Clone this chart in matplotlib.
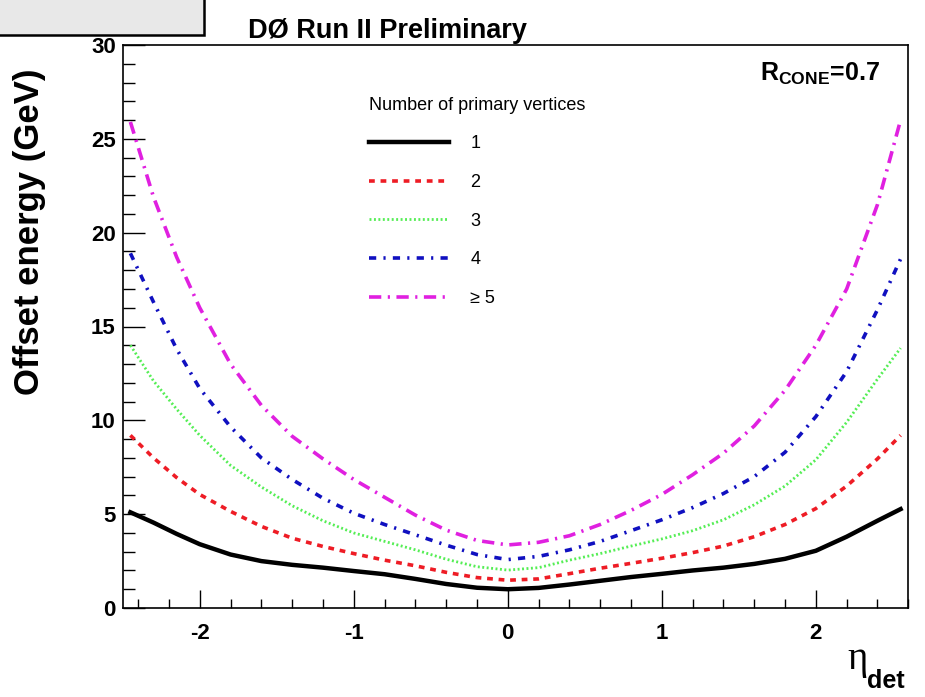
import numpy as np
import matplotlib
matplotlib.use("Agg")
import matplotlib.pyplot as plt
from matplotlib.patches import Rectangle
from matplotlib.ticker import MultipleLocator


##########       Data       ####################################
eta = [-2.45, -2.3, -2.15, -2.0, -1.8, -1.6, -1.4, -1.2, -1.0, -0.8, -0.6,
       -0.4, -0.2, 0.0, 0.2, 0.4, 0.6, 0.8, 1.0, 1.2, 1.4, 1.6, 1.8, 2.0,
       2.2, 2.4, 2.55]

offset_1 = [5.1, 4.55, 3.95, 3.4, 2.85, 2.5, 2.3, 2.15, 1.97, 1.8, 1.55,
            1.28, 1.08, 1.0, 1.07, 1.25, 1.45, 1.65, 1.82, 2.0, 2.15, 2.35,
            2.62, 3.05, 3.8, 4.65, 5.27]
offset_2 = [9.2, 8.0, 6.95, 6.05, 5.15, 4.35, 3.72, 3.28, 2.9, 2.55, 2.25,
            1.9, 1.62, 1.48, 1.55, 1.83, 2.12, 2.38, 2.65, 2.95, 3.3, 3.8,
            4.45, 5.3, 6.5, 7.95, 9.2]
offset_3 = [14.0, 12.1, 10.6, 9.2, 7.6, 6.45, 5.45, 4.65, 4.0, 3.55, 3.1,
            2.6, 2.2, 2.02, 2.15, 2.55, 2.9, 3.3, 3.68, 4.12, 4.7, 5.5,
            6.5, 7.9, 9.9, 12.2, 13.85]
offset_4 = [18.9, 16.3, 13.8, 11.7, 9.65, 8.0, 6.85, 5.85, 5.05, 4.45, 3.9,
            3.35, 2.85, 2.58, 2.75, 3.1, 3.55, 4.12, 4.7, 5.35, 6.1, 7.0,
            8.3, 10.2, 12.6, 15.9, 18.6]
offset_5 = [25.9, 21.9, 18.7, 16.0, 13.0, 10.8, 9.15, 7.95, 6.85, 5.9, 4.95,
            4.15, 3.6, 3.36, 3.5, 3.85, 4.45, 5.2, 6.05, 7.1, 8.25, 9.7,
            11.6, 14.0, 17.0, 21.5, 26.0]

labels = ["1", "2", "3", "4", "\u2265 5"]
series = [offset_1, offset_2, offset_3, offset_4, offset_5]
##########                                         #############


####################### Plot Config ##########################
plt.rcParams['font.family'] = ['Liberation Sans', 'DejaVu Sans']
plt.rcParams['mathtext.fontset'] = 'custom'
plt.rcParams['mathtext.rm'] = 'Liberation Sans'
plt.rcParams['mathtext.bf'] = 'Liberation Sans:bold'
plt.rcParams['axes.unicode_minus'] = False

W, H = 925, 697
fig = plt.figure(figsize=(W / 100, H / 100), dpi=100, facecolor='white')
ax = fig.add_axes([122.7 / W, 1 - 608 / H, 785.6 / W, 563 / H])

colors = ['black', '#ee1c25', '#55ee55', '#1010c0', '#e020e0']
styles = ['-', (0, (1.6, 1.6)), (0, (0.7, 0.9)), (0, (2.0, 2.0, 0.6, 2.0)),
          (0, (3.4, 1.8, 0.6, 1.8))]
widths = [3.2, 2.6, 2.0, 2.6, 2.6]

for vals, lab, c, ls, lw in zip(series, labels, colors, styles, widths):
    ax.plot(eta, vals, color=c, linestyle=ls, lw=lw, label=lab)

ax.set_xlim(-2.5, 2.6)
ax.set_ylim(0, 30)
ax.xaxis.set_major_locator(MultipleLocator(1))
ax.xaxis.set_minor_locator(MultipleLocator(0.2))
ax.yaxis.set_major_locator(MultipleLocator(5))
ax.yaxis.set_minor_locator(MultipleLocator(1))
ax.tick_params(axis='x', which='major', direction='in', length=12.7, width=1.0,
               pad=11, labelsize=16)
ax.tick_params(axis='x', which='minor', direction='in', length=6.3, width=1.0)
ax.tick_params(axis='y', which='major', direction='in', length=16, width=1.0,
               pad=5, labelsize=16)
ax.tick_params(axis='y', which='minor', direction='in', length=8.5, width=1.0)
for lab in ax.get_xticklabels() + ax.get_yticklabels():
    lab.set_fontweight('bold')
for sp in ax.spines.values():
    sp.set_linewidth(1.2)

leg = ax.legend(title='Number of primary vertices', loc='upper left',
                bbox_to_anchor=(0.314, 0.908), frameon=False, fontsize=13,
                title_fontsize=13, alignment='left', handlelength=4.4,
                handletextpad=1.2, labelspacing=1.2, borderpad=0,
                borderaxespad=0)

# texts
fig.text(388 / W, 1 - 38 / H, 'D\u00d8 Run II Preliminary', fontsize=19.5,
         fontweight='bold', ha='center', va='baseline')
fig.text(30 / W, 1 - 232 / H, 'Offset energy (GeV)', fontsize=25,
         fontweight='bold', rotation=90, ha='center', va='center')
fig.text(880 / W, 1 - 74 / H, r'$\mathbf{R_{CONE}}$=0.7', fontsize=18,
         fontweight='bold', ha='right', va='center')
fig.text(858 / W, 1 - 660 / H, '\u03b7', family='Liberation Serif',
         fontsize=28, ha='center', va='center')
fig.text(867 / W, 1 - 681 / H, 'det', fontsize=18, fontweight='bold',
         ha='left', va='center')

# grey title box in the corner
fig.patches.append(Rectangle((-0.01, 1 - 35 / H), 213 / W, 0.1,
                             transform=fig.transFigure, facecolor='#e8e8e8',
                             edgecolor='black', lw=1.8))

fig.savefig('out.png', dpi=100)
